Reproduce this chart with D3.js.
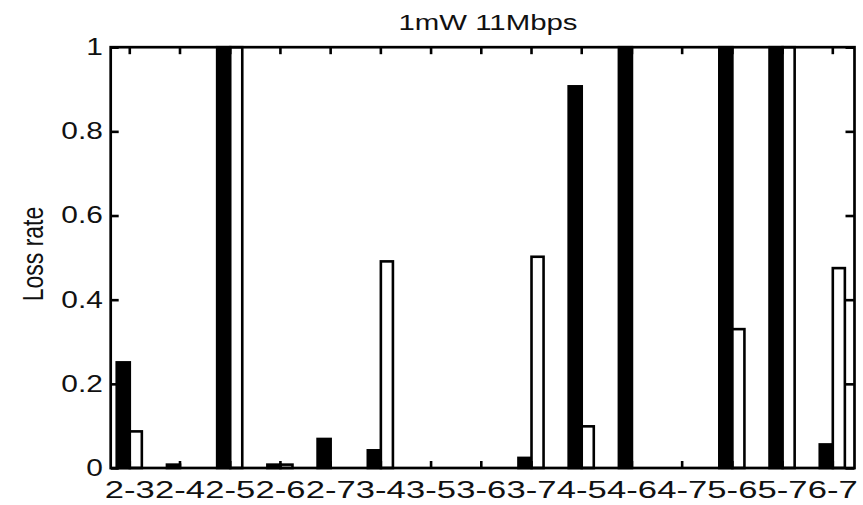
<!DOCTYPE html>
<html lang="en">
<head>
    <meta charset="UTF-8">
    <title>1mW 11Mbps</title>
    <script src="https://d3js.org/d3.v7.min.js"></script>
    <style>
        body { margin: 0; background: #fff; }
        text { font-family: "Liberation Sans", Arial, sans-serif; fill: #111; }
    </style>
</head>
<body>
    <svg id="chart" width="863" height="505"></svg>

    <script>
        // Link pairs along the x axis
        const categories = ["2-3", "2-4", "2-5", "2-6", "2-7", "3-4", "3-5", "3-6", "3-7", "4-5", "4-6", "4-7", "5-6", "5-7", "6-7"];
        // Loss rate, black bars
        const blackValues = [0.251, 0.008, 1, 0.008, 0.069, 0.042, 0, 0, 0.024, 0.907, 1, 0, 1, 1, 0.056];
        // Loss rate, white bars
        const whiteValues = [0.087, 0, 1, 0.008, 0, 0.491, 0, 0, 0.502, 0.099, 0, 0, 0.330, 1, 0.475];
        const yTicks = [0, 0.2, 0.4, 0.6, 0.8, 1];
        const yTickLabels = ["0", "0.2", "0.4", "0.6", "0.8", "1"];

        const plotLeft = 110.7, plotRight = 854.5, plotTop = 47.2, plotBottom = 468;
        const stretch = 1.3;   // the source text is drawn wide

        const svg = d3.select("#chart");

        const xScale = d3.scaleLinear()
            .domain([0.63, 15.442])
            .range([plotLeft, plotRight]);

        const yScale = d3.scaleLinear()
            .domain([0, 1])
            .range([plotBottom, plotTop]);

        const idx = categories.map((d, i) => i + 1);

        // Black bars
        svg.selectAll(".bar-black")
            .data(blackValues)
            .enter()
            .append("rect")
            .attr("class", "bar-black")
            .attr("x", (d, i) => xScale(idx[i] - 0.25))
            .attr("width", (d, i) => xScale(idx[i] + 0.01) - xScale(idx[i] - 0.25))
            .attr("y", d => yScale(d))
            .attr("height", d => yScale(0) - yScale(d))
            .attr("fill", "#000")
            .attr("stroke", "#000")
            .attr("stroke-width", 2.6);

        // White bars
        svg.selectAll(".bar-white")
            .data(whiteValues)
            .enter()
            .append("rect")
            .attr("class", "bar-white")
            .attr("x", (d, i) => xScale(idx[i] + 0.01))
            .attr("width", (d, i) => xScale(idx[i] + 0.25) - xScale(idx[i] + 0.01))
            .attr("y", d => yScale(d))
            .attr("height", d => yScale(0) - yScale(d))
            .attr("fill", "#fff")
            .attr("stroke", "#000")
            .attr("stroke-width", 2.6);

        // Axes, ticks pointing inward
        const xBottom = svg.append("g")
            .attr("transform", `translate(0, ${plotBottom})`)
            .call(d3.axisBottom(xScale).tickValues(idx)
                .tickFormat((d, i) => categories[i])
                .tickSize(-7).tickSizeOuter(0).tickPadding(14));
        xBottom.select(".domain").remove();
        xBottom.selectAll("text")
            .attr("font-size", 23)
            .attr("fill", "#111")
            .attr("textLength", 50)
            .attr("lengthAdjust", "spacingAndGlyphs");

        const xTop = svg.append("g")
            .attr("transform", `translate(0, ${plotTop})`)
            .call(d3.axisTop(xScale).tickValues(idx).tickFormat("").tickSize(-7).tickSizeOuter(0));
        xTop.select(".domain").remove();

        const yLeft = svg.append("g")
            .attr("transform", `translate(${plotLeft}, 0)`)
            .call(d3.axisLeft(yScale).tickValues(yTicks)
                .tickFormat((d, i) => yTickLabels[i])
                .tickSize(-8).tickSizeOuter(0));
        yLeft.select(".domain").remove();
        yLeft.selectAll("text")
            .attr("font-size", 23)
            .attr("fill", "#111")
            .attr("x", -6)
            .attr("transform", `scale(${stretch}, 1)`);

        const yRight = svg.append("g")
            .attr("transform", `translate(${plotRight}, 0)`)
            .call(d3.axisRight(yScale).tickValues(yTicks).tickFormat("").tickSize(-9).tickSizeOuter(0));
        yRight.select(".domain").remove();

        svg.selectAll(".tick line")
            .attr("stroke", "#000")
            .attr("stroke-width", 2.6);

        // Plot frame
        svg.append("rect")
            .attr("x", plotLeft)
            .attr("y", plotTop)
            .attr("width", plotRight - plotLeft)
            .attr("height", plotBottom - plotTop)
            .attr("fill", "none")
            .attr("stroke", "#000")
            .attr("stroke-width", 2.7);

        // Title
        svg.append("text")
            .attr("x", 488)
            .attr("y", 30)
            .attr("text-anchor", "middle")
            .attr("font-size", 22)
            .attr("textLength", 179)
            .attr("lengthAdjust", "spacingAndGlyphs")
            .text("1mW 11Mbps");

        // Y label
        svg.append("text")
            .attr("transform", `translate(43, 254) rotate(-90) scale(1, ${stretch})`)
            .attr("text-anchor", "middle")
            .attr("font-size", 23)
            .text("Loss rate");
    </script>
</body>
</html>
